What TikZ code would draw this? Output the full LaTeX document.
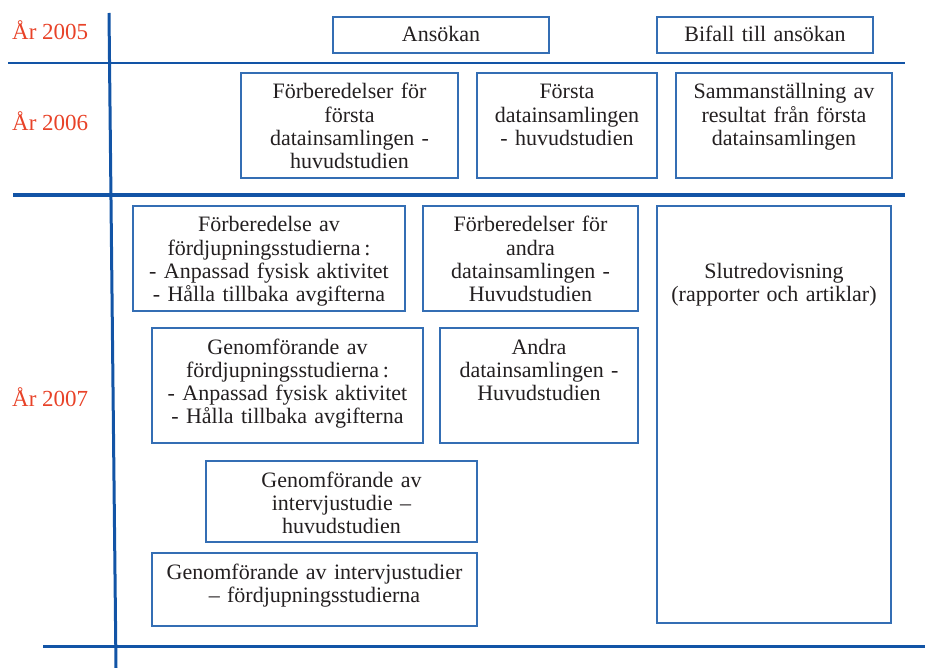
\documentclass[tikz,border=0pt]{standalone}
\usepackage{fontspec}
\setmainfont{Liberation Serif}
\usetikzlibrary{positioning}
\definecolor{gridblue}{RGB}{18,84,166}
\definecolor{boxblue}{RGB}{52,110,180}
\definecolor{yearred}{RGB}{232,66,40}
\definecolor{inkblack}{RGB}{35,31,32}
\tikzset{blk/.style 2 args={draw=boxblue,line width=1.1pt,inner sep=0pt,outer sep=0pt,
    anchor=north west,align=center,text width=#1,text height=26pt,text depth=#2,
    text=inkblack,font=\fontsize{22}{23.3}\selectfont},
  yearline/.style={draw=gridblue,line width=#1}}

\begin{document}
\begin{tikzpicture}[x=1pt,y=-1pt,
    yr/.style={anchor=base west,text=yearred,inner sep=0pt,font=\fontsize{23}{26}\selectfont}]
 \useasboundingbox (0,0) rectangle (925,668);
 \node[yr] (ar2005) at (12,40) {År 2005};
 \node[yr] (ar2006) at (12,131) {År 2006};
 \node[yr] (ar2007) at (12,406) {År 2007};
 \draw[yearline=2.2pt] (8,63) -- (905,63);
 \draw[yearline=3.3pt] (13,195) -- (905,195);
 \draw[yearline=3pt] (43,646) -- (925,646);
 \draw[yearline=3pt] (109,13) -- (116,668);
 \node[blk={216pt}{11pt},text height=25pt] (ansokan) at (333,17) {Ansökan};
 \node[blk={216pt}{11pt},text height=25pt,right=108pt of ansokan] (bifall) {Bifall till ansökan};
 \node[blk={217pt}{79pt}] (forbforsta) at (241,73)
  {Förberedelser för\\ första\\ datainsamlingen -\\ huvudstudien};
 \node[blk={180pt}{79pt},right=19pt of forbforsta] (forsta)
  {Första\\ datainsamlingen\\ - huvudstudien};
 \node[blk={216pt}{79pt},right=19pt of forsta] (samman)
  {Sammanställning av\\ resultat från första\\ datainsamlingen};
 \node[blk={272pt}{79pt}] (fordjforb) at (133,206)
  {Förberedelse av\\ fördjupningsstudierna\,:\\ - Anpassad fysisk aktivitet\\ - Hålla tillbaka avgifterna};
 \node[blk={215pt}{79pt},right=18pt of fordjforb] (andraforb)
  {Förberedelser för\\ andra\\ datainsamlingen -\\ Huvudstudien};
 \node[blk={234pt}{345pt},text height=72pt] (slut) at (657,206)
  {Slutredovisning\\ (rapporter och artiklar)};
 \node[blk={271pt}{89pt}] (fordjgen) at (152,328)
  {Genomförande av\\ fördjupningsstudierna\,:\\ - Anpassad fysisk aktivitet\\ - Hålla tillbaka avgifterna};
 \node[blk={198pt}{89pt},right=17pt of fordjgen] (andragen)
  {Andra\\ datainsamlingen -\\ Huvudstudien};
 \node[blk={271pt}{55pt}] (intervjuhuvud) at (206,461)
  {Genomförande av\\ intervjustudie –\\ huvudstudien};
 \node[blk={325pt}{47pt}] (intervjufordj) at (152,553)
  {Genomförande av intervjustudier\\ – fördjupningsstudierna};
\end{tikzpicture}
\end{document}
